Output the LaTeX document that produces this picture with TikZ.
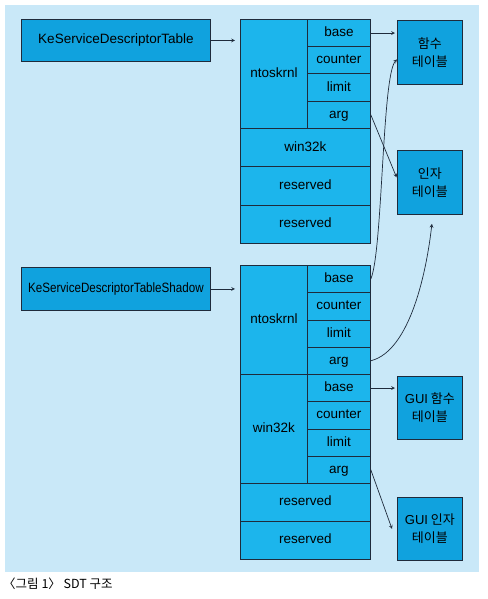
\documentclass[tikz,border=0pt]{standalone}
\usepackage{fontspec}
\setmainfont{Liberation Sans}
\newfontfamily\kr{Noto Sans CJK KR}
\usepackage{graphicx}

\definecolor{bgblue}{HTML}{C9E8F8}
\definecolor{cellblue}{HTML}{1CB5EC}
\definecolor{boxblue}{HTML}{10A2DE}
\definecolor{edge}{HTML}{1E2B3C}

\tikzset{
  cell/.style={draw=edge,fill=cellblue,line width=0.8pt,anchor=north west,inner sep=0pt,
    text height=9.5pt,text depth=2.5pt,font=\fontsize{13.5}{16}\selectfont},
  subcell/.style={cell,minimum width=63pt,minimum height=27.25pt},
  tblbox/.style={draw=edge,fill=boxblue,line width=0.8pt,anchor=north west,inner sep=0pt,
    minimum width=65pt,minimum height=64pt,align=center,font=\kr\fontsize{13}{18}\selectfont},
  link/.style={->,draw=edge,line width=0.7pt}
}

\begin{document}
\begin{tikzpicture}[x=1pt,y=-1pt,>=stealth]
\useasboundingbox (0,0) rectangle (487,599);
\fill[bgblue] (5,5) rectangle (479,572);

% table pointers
\node[cell,fill=boxblue,minimum width=189pt,minimum height=42pt] (tbl) at (21,19) {KeServiceDescriptorTable};
\node[cell,fill=boxblue,minimum width=189pt,minimum height=43pt] (shadow) at (21,267) {\scalebox{0.86}[1]{KeServiceDescriptorTableShadow}};

% first table
\node[cell,minimum width=67pt,minimum height=109pt] (nt1) at (240,19) {ntoskrnl};
\node[subcell] (base1) at (307,19) {base};
\node[subcell] (counter1) at (307,46.25) {counter};
\node[subcell] (limit1) at (307,73.5) {limit};
\node[subcell] (arg1) at (307,100.75) {arg};
\node[cell,minimum width=130pt,minimum height=38.33pt] (win1) at (240,128) {win32k};
\node[cell,minimum width=130pt,minimum height=38.33pt] (res1a) at (240,166.33) {reserved};
\node[cell,minimum width=130pt,minimum height=38.33pt] (res1b) at (240,204.67) {reserved};

% shadow table
\node[cell,minimum width=67pt,minimum height=109pt] (nt2) at (240,265) {ntoskrnl};
\node[subcell] (base2) at (307,265) {base};
\node[subcell] (counter2) at (307,292.25) {counter};
\node[subcell] (limit2) at (307,319.5) {limit};
\node[subcell] (arg2) at (307,346.75) {arg};
\node[cell,minimum width=67pt,minimum height=109pt] (win2) at (240,374) {win32k};
\node[subcell] (wbase2) at (307,374) {base};
\node[subcell] (wcounter2) at (307,401.25) {counter};
\node[subcell] (wlimit2) at (307,428.5) {limit};
\node[subcell] (warg2) at (307,455.75) {arg};
\node[cell,minimum width=130pt,minimum height=38pt] (res2a) at (240,483) {reserved};
\node[cell,minimum width=130pt,minimum height=38pt] (res2b) at (240,521) {reserved};

% target tables
\node[tblbox] (func) at (397,20) {함수\\테이블};
\node[tblbox] (args) at (397,150) {인자\\테이블};
\node[tblbox,minimum height=63pt] (guifunc) at (397,376) {{\fontspec{Liberation Sans}GUI} 함수\\테이블};
\node[tblbox,minimum height=63pt] (guiargs) at (397,497) {{\fontspec{Liberation Sans}GUI} 인자\\테이블};

\node[anchor=west,inner sep=0pt,font=\kr\fontsize{12.5}{15}\selectfont] (caption) at (3,584) {〈그림 1〉 SDT 구조};

% connectors
\draw[link,shorten >=5pt] (tbl.east) -- (tbl.east -| nt1.west);
\draw[link,shorten >=5pt] (shadow.east) -- (shadow.east -| nt2.west);
\draw[link,shorten >=2pt] (base1.east) -- (base1.east -| func.west);
\draw[link,shorten >=1pt] (arg1.east) -- ([yshift=4pt]args.west);
\draw[link] (base2.east) .. controls +(12,-28) and +(-15,16) .. ([yshift=-7pt]func.west);
\draw[link] (arg2.east) .. controls +(40,-10) and +(-5,45) .. ([xshift=2pt,yshift=-9pt]args.south);
\draw[link,shorten >=2pt] (wbase2.east) -- (wbase2.east -| guifunc.west);
\draw[link] (warg2.east) -- ([xshift=-5pt]guiargs.west);

\end{tikzpicture}
\end{document}
